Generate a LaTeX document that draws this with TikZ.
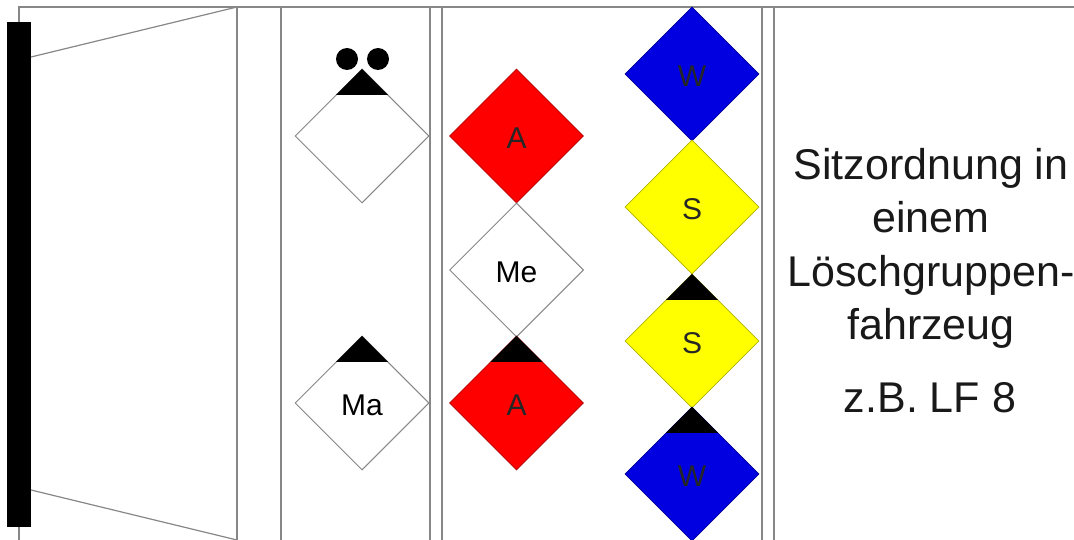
\documentclass[tikz,border=0pt]{standalone}
\usepackage{fontspec}
\setmainfont{Liberation Sans}
\usetikzlibrary{shapes.geometric,positioning}
\definecolor{rulegray}{RGB}{135,135,135}
\definecolor{seatred}{RGB}{255,0,0}
\definecolor{seatblue}{RGB}{0,0,225}
\definecolor{seatyellow}{RGB}{255,255,0}
\newcommand{\seatlab}[1]{\raisebox{0pt}[\dimexpr\height+4pt\relax]{#1}}

\begin{document}
\begin{tikzpicture}[
  x=1pt, y=-1pt,
  frm/.style={draw=rulegray, line width=1.6pt},
  seat/.style={diamond, draw=#1!70!black, fill=#1, line width=0.8pt, inner sep=0pt, aspect=1, minimum size=134pt, font=\fontsize{30}{30}\selectfont, text=black!85},
  wseat/.style={diamond, draw=rulegray, fill=white, line width=1pt, inner sep=0pt, aspect=1, minimum size=134pt, font=\fontsize{30}{30}\selectfont},
  lead/.style={isosceles triangle, isosceles triangle apex angle=90, shape border rotate=90, fill=black, inner sep=0pt, minimum height=26pt, minimum width=52pt},
  dot/.style={circle, fill=black, inner sep=0pt, minimum size=22pt},
  captxt/.style={font=\fontsize{43}{53.5}\selectfont, align=center, text=black!90}
]
  \useasboundingbox (0,0) rectangle (1074,540);
  % ---------------- vehicle outline ----------------
  \coordinate (topl) at (19,7);
  \coordinate (topr) at (1074,7);
  \coordinate (botl) at (19,540);
  \coordinate (cabt) at (237,7);
  \coordinate (cabb) at (237,540);
  \coordinate (wint) at (31,57);
  \coordinate (winb) at (31,490);
  \node[fill=black, minimum width=24pt, minimum height=505pt, inner sep=0pt] (bar) at (19,274.5) {};
  \draw[frm] (bar.north) -- (topl) -- (topr);
  \draw[frm] (bar.south) -- (botl);
  \draw[frm] (cabt) -- (cabb);
  \draw[frm, line width=1.2pt] (wint) -- (cabt);
  \draw[frm, line width=1.2pt] (winb) -- (cabb);
  % seat rows
  \foreach \xx in {281,430,442,762,774}
    \draw[frm] (\xx,7) -- (\xx,540);
  % ---------------- seats ----------------
  \node[wseat] (gf) at (362,136) {};
  \node[wseat] (ma) at (362,403) {\seatlab{Ma}};
  \node[seat=seatred] (atr) at (516.5,136) {\seatlab{A}};
  \node[wseat] (me) at (516.5,270) {\seatlab{Me}};
  \node[seat=seatred] (atrn) at (516.5,403) {\seatlab{A}};
  \node[seat=seatblue] (wtr) at (692,74) {\seatlab{W}};
  \node[seat=seatyellow] (str) at (692,207) {\seatlab{S}};
  \node[seat=seatyellow] (strn) at (692,341) {\seatlab{S}};
  \node[seat=seatblue] (wtrn) at (692,474) {\seatlab{W}};
  % leaders, on the tip of their seats
  \node[lead] (lgf) at (362,84) {};
  \node[lead] (lma) at (362,351) {};
  \node[lead] (latr) at (516.5,351) {};
  \node[lead] (lstr) at (692,289) {};
  \node[lead] (lwtr) at (692,422) {};
  \node[dot] (d1) at (347,59) {};
  \node[dot] (d2) at (378,59) {};
  % ---------------- caption ----------------
  \node[captxt] (title) at (931,248.5) {Sitzordnung in\\einem\\Löschgruppen-\\fahrzeug};
  \node[captxt] (lf) at (930,398) {z.B. LF 8};
\end{tikzpicture}
\end{document}
